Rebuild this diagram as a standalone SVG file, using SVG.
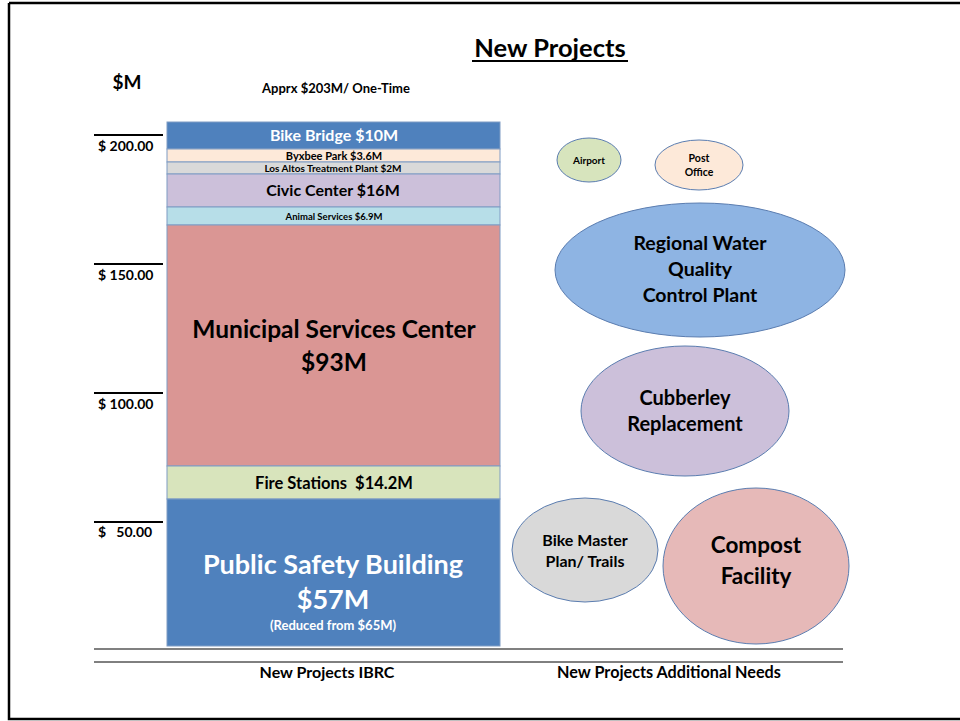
<svg xmlns="http://www.w3.org/2000/svg" width="960" height="721" viewBox="0 0 960 721">
<style>
text{font-family:Lato,"Open Sans","Liberation Sans",sans-serif;font-weight:bold;text-anchor:middle;fill:#000}
.w{fill:#fff}
.bar{stroke:#7F9CC4;stroke-width:1}
.ell{stroke:#5B7DB0;stroke-width:1}
.tick{stroke:#000;stroke-width:2}
.lab{text-anchor:start;font-size:14px}
</style>
<rect width="960" height="721" fill="#fff"/>
<path d="M9 3H960M9 3V719H960" fill="none" stroke="#000" stroke-width="2.5"/>
<text x="550" y="57" font-size="25.5">New Projects</text>
<line x1="472" y1="61" x2="628" y2="61" stroke="#000" stroke-width="2"/>
<text x="127" y="89" font-size="19">$M</text>
<text x="336" y="93" font-size="13">Apprx $203M/ One-Time</text>
<g id="axis">
<line class="tick" x1="94" y1="135" x2="163" y2="135"/>
<text class="lab" x="98" y="151">$ 200.00</text>
<line class="tick" x1="94" y1="264" x2="163" y2="264"/>
<text class="lab" x="98" y="280">$ 150.00</text>
<line class="tick" x1="94" y1="393" x2="163" y2="393"/>
<text class="lab" x="98" y="409">$ 100.00</text>
<line class="tick" x1="94" y1="522" x2="163" y2="522"/>
<text class="lab" x="98" y="537" xml:space="preserve">$   50.00</text>
<line x1="94" y1="649" x2="843" y2="649" stroke="#808080" stroke-width="2"/>
<line x1="94" y1="662" x2="843" y2="662" stroke="#000" stroke-width="1"/>
<text x="327" y="678" font-size="16">New Projects IBRC</text>
<text x="669" y="678" font-size="16.2">New Projects Additional Needs</text>
</g>
<g id="bike-bridge"><rect class="bar" x="167" y="122" width="333" height="27" fill="#4F81BD"/><text class="w" x="334" y="141" font-size="16">Bike Bridge $10M</text></g>
<g id="byxbee"><rect class="bar" x="167" y="149" width="333" height="13" fill="#FDE9D9"/><text x="334" y="159.5" font-size="11">Byxbee Park $3.6M</text></g>
<g id="los-altos"><rect class="bar" x="167" y="162" width="333" height="12" fill="#D9D9D9"/><text x="333" y="171.5" font-size="10">Los Altos Treatment Plant $2M</text></g>
<g id="civic"><rect class="bar" x="167" y="174" width="333" height="33" fill="#CCC0DA"/><text x="333" y="196" font-size="16">Civic Center $16M</text></g>
<g id="animal"><rect class="bar" x="167" y="207" width="333" height="18" fill="#B7DEE8"/><text x="334" y="219.5" font-size="9.5">Animal Services $6.9M</text></g>
<g id="msc"><rect class="bar" x="167" y="225" width="333" height="241" fill="#DA9694"/><text x="334" y="338" font-size="24.5">Municipal Services Center</text><text x="334" y="371" font-size="24.5">$93M</text></g>
<g id="fire"><rect class="bar" x="167" y="466" width="333" height="33" fill="#D8E4BC"/><text x="334" y="489" font-size="16.5" xml:space="preserve">Fire Stations  $14.2M</text></g>
<g id="psb"><rect class="bar" x="167" y="499" width="333" height="147" fill="#4F81BD"/><text class="w" x="333" y="574" font-size="27">Public Safety Building</text><text class="w" x="333" y="609" font-size="27">$57M</text><text class="w" x="333" y="630" font-size="13">(Reduced from $65M)</text></g>
<g id="airport"><ellipse class="ell" cx="589" cy="160" rx="32" ry="22" fill="#D7E4BD"/><text x="589" y="164" font-size="10">Airport</text></g>
<g id="post-office"><ellipse class="ell" cx="699" cy="165" rx="44" ry="25" fill="#FDE9D9"/><text x="699" y="162" font-size="10.5">Post</text><text x="699" y="176" font-size="10.5">Office</text></g>
<g id="rwqcp"><ellipse class="ell" cx="700" cy="270" rx="145" ry="67" fill="#8EB4E3"/><text x="700" y="250" font-size="19.5">Regional Water</text><text x="700" y="276" font-size="19.5">Quality</text><text x="700" y="302" font-size="19.5">Control Plant</text></g>
<g id="cubberley"><ellipse class="ell" cx="685" cy="411" rx="104" ry="65" fill="#CCC0DA"/><text x="685" y="405" font-size="20">Cubberley</text><text x="685" y="431" font-size="20">Replacement</text></g>
<g id="bike-master"><ellipse class="ell" cx="585" cy="550" rx="73" ry="52" fill="#D9D9D9"/><text x="585" y="546" font-size="16">Bike Master</text><text x="585" y="567" font-size="16">Plan/ Trails</text></g>
<g id="compost"><ellipse class="ell" cx="756" cy="566" rx="93" ry="78" fill="#E6B9B8"/><text x="756" y="553" font-size="22.5">Compost</text><text x="756" y="584" font-size="22.5">Facility</text></g>
<g id="connectors"/>
</svg>
